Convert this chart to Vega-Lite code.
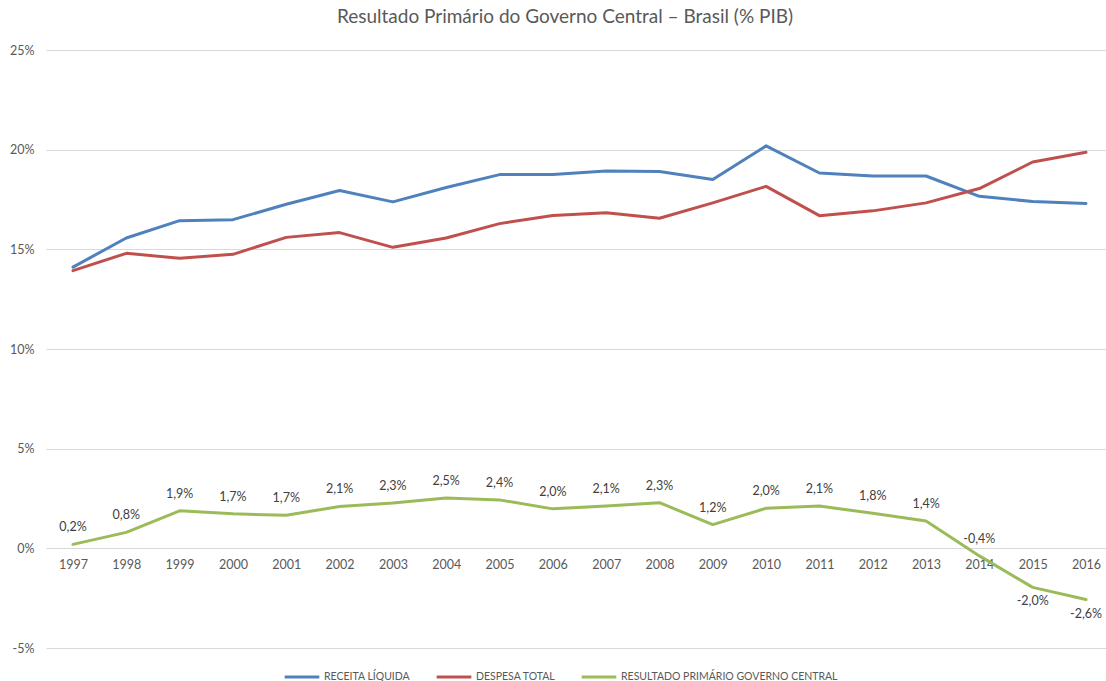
{
  "$schema": "https://vega.github.io/schema/vega-lite/v6.json",
  "width": 1060,
  "height": 598,
  "autosize": {"type": "none"},
  "padding": {"left": 46, "top": 50, "right": 0, "bottom": 33},
  "background": "white",
  "config": {
    "locale": {"number": {"decimal": ",", "thousands": ".", "grouping": [3], "currency": ["R$", ""], "minus": "-"}},
    "font": "Lato",
    "view": {"stroke": null},
    "axis": {"labelFont": "Lato", "labelColor": "#595959", "labelFontSize": 12.5, "domain": false, "ticks": false}
  },
  "title": {
    "text": "Resultado Primário do Governo Central – Brasil (% PIB)",
    "font": "Lato",
    "fontSize": 19,
    "fontWeight": "normal",
    "color": "#595959",
    "anchor": "middle",
    "dx": -11,
    "offset": 17
  },
  "data": {
    "values": [
      {"year": 1997, "serie": "RECEITA LÍQUIDA", "value": 0.1411},
      {"year": 1998, "serie": "RECEITA LÍQUIDA", "value": 0.1557},
      {"year": 1999, "serie": "RECEITA LÍQUIDA", "value": 0.1644},
      {"year": 2000, "serie": "RECEITA LÍQUIDA", "value": 0.1649},
      {"year": 2001, "serie": "RECEITA LÍQUIDA", "value": 0.1726},
      {"year": 2002, "serie": "RECEITA LÍQUIDA", "value": 0.1795},
      {"year": 2003, "serie": "RECEITA LÍQUIDA", "value": 0.1738},
      {"year": 2004, "serie": "RECEITA LÍQUIDA", "value": 0.1810},
      {"year": 2005, "serie": "RECEITA LÍQUIDA", "value": 0.1875},
      {"year": 2006, "serie": "RECEITA LÍQUIDA", "value": 0.1875},
      {"year": 2007, "serie": "RECEITA LÍQUIDA", "value": 0.1893},
      {"year": 2008, "serie": "RECEITA LÍQUIDA", "value": 0.1890},
      {"year": 2009, "serie": "RECEITA LÍQUIDA", "value": 0.1850},
      {"year": 2010, "serie": "RECEITA LÍQUIDA", "value": 0.2019},
      {"year": 2011, "serie": "RECEITA LÍQUIDA", "value": 0.1883},
      {"year": 2012, "serie": "RECEITA LÍQUIDA", "value": 0.1868},
      {"year": 2013, "serie": "RECEITA LÍQUIDA", "value": 0.1868},
      {"year": 2014, "serie": "RECEITA LÍQUIDA", "value": 0.1766},
      {"year": 2015, "serie": "RECEITA LÍQUIDA", "value": 0.1740},
      {"year": 2016, "serie": "RECEITA LÍQUIDA", "value": 0.1730},
      {"year": 1997, "serie": "DESPESA TOTAL", "value": 0.1393},
      {"year": 1998, "serie": "DESPESA TOTAL", "value": 0.1480},
      {"year": 1999, "serie": "DESPESA TOTAL", "value": 0.1455},
      {"year": 2000, "serie": "DESPESA TOTAL", "value": 0.1475},
      {"year": 2001, "serie": "DESPESA TOTAL", "value": 0.1560},
      {"year": 2002, "serie": "DESPESA TOTAL", "value": 0.1584},
      {"year": 2003, "serie": "DESPESA TOTAL", "value": 0.1510},
      {"year": 2004, "serie": "DESPESA TOTAL", "value": 0.1557},
      {"year": 2005, "serie": "DESPESA TOTAL", "value": 0.1629},
      {"year": 2006, "serie": "DESPESA TOTAL", "value": 0.1670},
      {"year": 2007, "serie": "DESPESA TOTAL", "value": 0.1683},
      {"year": 2008, "serie": "DESPESA TOTAL", "value": 0.1656},
      {"year": 2009, "serie": "DESPESA TOTAL", "value": 0.1733},
      {"year": 2010, "serie": "DESPESA TOTAL", "value": 0.1816},
      {"year": 2011, "serie": "DESPESA TOTAL", "value": 0.1669},
      {"year": 2012, "serie": "DESPESA TOTAL", "value": 0.1693},
      {"year": 2013, "serie": "DESPESA TOTAL", "value": 0.1733},
      {"year": 2014, "serie": "DESPESA TOTAL", "value": 0.1805},
      {"year": 2015, "serie": "DESPESA TOTAL", "value": 0.1938},
      {"year": 2016, "serie": "DESPESA TOTAL", "value": 0.1987},
      {"year": 1997, "serie": "RESULTADO PRIMÁRIO GOVERNO CENTRAL", "value": 0.002},
      {"year": 1998, "serie": "RESULTADO PRIMÁRIO GOVERNO CENTRAL", "value": 0.008},
      {"year": 1999, "serie": "RESULTADO PRIMÁRIO GOVERNO CENTRAL", "value": 0.0188},
      {"year": 2000, "serie": "RESULTADO PRIMÁRIO GOVERNO CENTRAL", "value": 0.0173},
      {"year": 2001, "serie": "RESULTADO PRIMÁRIO GOVERNO CENTRAL", "value": 0.0166},
      {"year": 2002, "serie": "RESULTADO PRIMÁRIO GOVERNO CENTRAL", "value": 0.021},
      {"year": 2003, "serie": "RESULTADO PRIMÁRIO GOVERNO CENTRAL", "value": 0.0228},
      {"year": 2004, "serie": "RESULTADO PRIMÁRIO GOVERNO CENTRAL", "value": 0.0252},
      {"year": 2005, "serie": "RESULTADO PRIMÁRIO GOVERNO CENTRAL", "value": 0.0243},
      {"year": 2006, "serie": "RESULTADO PRIMÁRIO GOVERNO CENTRAL", "value": 0.0198},
      {"year": 2007, "serie": "RESULTADO PRIMÁRIO GOVERNO CENTRAL", "value": 0.0212},
      {"year": 2008, "serie": "RESULTADO PRIMÁRIO GOVERNO CENTRAL", "value": 0.0229},
      {"year": 2009, "serie": "RESULTADO PRIMÁRIO GOVERNO CENTRAL", "value": 0.0119},
      {"year": 2010, "serie": "RESULTADO PRIMÁRIO GOVERNO CENTRAL", "value": 0.0201},
      {"year": 2011, "serie": "RESULTADO PRIMÁRIO GOVERNO CENTRAL", "value": 0.0212},
      {"year": 2012, "serie": "RESULTADO PRIMÁRIO GOVERNO CENTRAL", "value": 0.0176},
      {"year": 2013, "serie": "RESULTADO PRIMÁRIO GOVERNO CENTRAL", "value": 0.0137},
      {"year": 2014, "serie": "RESULTADO PRIMÁRIO GOVERNO CENTRAL", "value": -0.0038},
      {"year": 2015, "serie": "RESULTADO PRIMÁRIO GOVERNO CENTRAL", "value": -0.0196},
      {"year": 2016, "serie": "RESULTADO PRIMÁRIO GOVERNO CENTRAL", "value": -0.0257}
    ]
  },
  "encoding": {
    "x": {
      "field": "year",
      "type": "quantitative",
      "scale": {"domain": [1996.494, 2016.375], "nice": false, "zero": false},
      "axis": {
        "title": null,
        "values": [1997, 1998, 1999, 2000, 2001, 2002, 2003, 2004, 2005, 2006, 2007, 2008, 2009, 2010, 2011, 2012, 2013, 2014, 2015, 2016],
        "format": "d",
        "grid": false,
        "offset": -100,
        "labelPadding": 10
      }
    },
    "y": {
      "field": "value",
      "type": "quantitative",
      "scale": {"domain": [-0.05, 0.25], "nice": false},
      "axis": {
        "title": null,
        "values": [-0.05, 0, 0.05, 0.1, 0.15, 0.2, 0.25],
        "format": ".0%",
        "grid": true,
        "gridColor": "#D9D9D9",
        "gridWidth": 1,
        "labelPadding": 12
      }
    }
  },
  "layer": [
    {
      "mark": {"type": "line", "strokeWidth": 3, "strokeJoin": "round", "strokeCap": "round"},
      "encoding": {
        "color": {
          "field": "serie",
          "type": "nominal",
          "scale": {
            "domain": ["RECEITA LÍQUIDA", "DESPESA TOTAL", "RESULTADO PRIMÁRIO GOVERNO CENTRAL"],
            "range": ["#4F81BD", "#C0504D", "#9BBB59"]
          },
          "legend": {
            "title": null,
            "orient": "none",
            "direction": "horizontal",
            "legendX": 237,
            "legendY": 608,
            "padding": 0,
            "symbolType": "stroke",
            "symbolSize": 1200,
            "symbolStrokeWidth": 3,
            "labelFont": "Lato",
            "labelFontSize": 10.5,
            "labelColor": "#595959",
            "labelOffset": 3,
            "labelLimit": 400,
            "columnPadding": 19
          }
        }
      }
    },
    {
      "transform": [{"filter": "datum.serie === 'RESULTADO PRIMÁRIO GOVERNO CENTRAL' && datum.year < 2015"}],
      "mark": {"type": "text", "dy": -17, "font": "Lato", "fontSize": 12.5, "color": "#404040"},
      "encoding": {"text": {"field": "value", "type": "quantitative", "format": ".1%"}}
    },
    {
      "transform": [{"filter": "datum.serie === 'RESULTADO PRIMÁRIO GOVERNO CENTRAL' && datum.year >= 2015"}],
      "mark": {"type": "text", "dy": 14, "font": "Lato", "fontSize": 12.5, "color": "#404040"},
      "encoding": {"text": {"field": "value", "type": "quantitative", "format": ".1%"}}
    }
  ]
}
